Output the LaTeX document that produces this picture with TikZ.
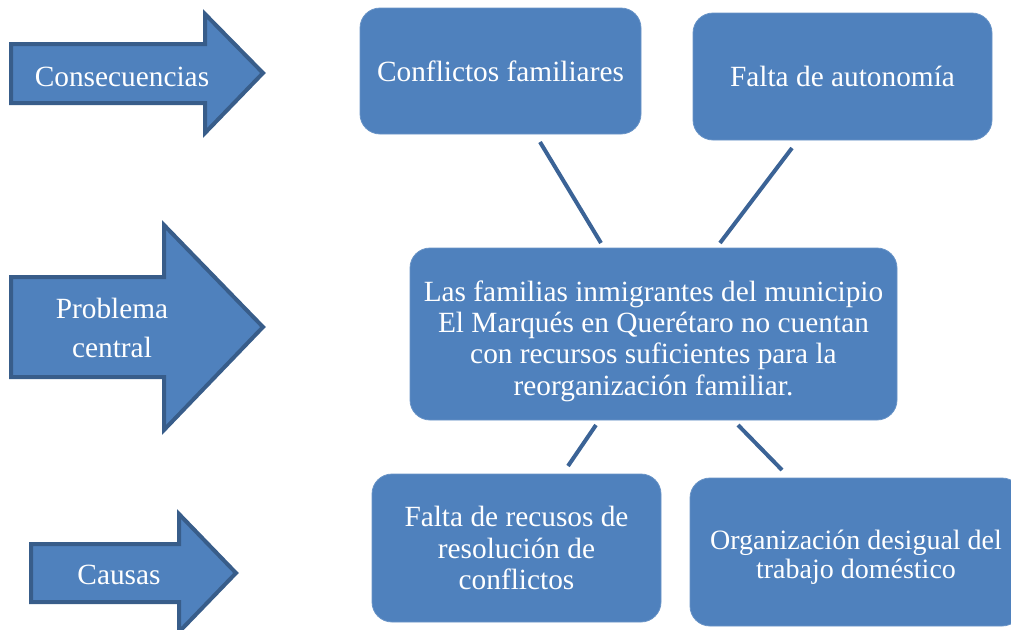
\documentclass[tikz,border=0pt]{standalone}
\usepackage{fontspec}
\setmainfont{Liberation Serif}
\definecolor{boxfill}{HTML}{4F81BD}
\definecolor{boxedge}{HTML}{385D8A}
\definecolor{linkcol}{HTML}{3B6396}
\begin{document}
\begin{tikzpicture}[x=0.75pt,y=-0.75pt,
  arrowshape/.style={fill=boxfill,draw=boxedge,line width=3pt,line join=miter},
  lbl/.style={text=white,font=\fontsize{22pt}{23.5pt}\selectfont,align=center,inner sep=0pt},
  box/.style={fill=boxfill,draw=boxfill!85!white,line width=0.6pt,rounded corners=15pt,text=white,
    font=\fontsize{22pt}{23.5pt}\selectfont,align=center,inner sep=0pt,outer sep=0pt},
  link/.style={draw=linkcol,line width=3pt}]
\useasboundingbox (0,0) rectangle (1011,629);
\begin{scope}
\clip (0,0) rectangle (1011,629);
% side arrows
\draw[arrowshape] (11,44) -- (205,44) -- (205,14) -- (263,73) -- (205,133) -- (205,103) -- (11,103) -- cycle;
\draw[arrowshape] (11,277) -- (164,277) -- (164,225) -- (263,327) -- (164,430) -- (164,377) -- (11,377) -- cycle;
\draw[arrowshape] (31,544) -- (179,544) -- (179,514) -- (236,573) -- (179,632) -- (179,602) -- (31,602) -- cycle;
\node[lbl] (tcons) at (122,77) {Consecuencias};
\node[lbl,font=\fontsize{22pt}{29pt}\selectfont] (tprob) at (112,328) {Problema\\central};
\node[lbl] (tcaus) at (119,575) {Causas};
% boxes
\node[box,minimum width=210.75pt,minimum height=94.5pt] (conf) at (500.5,71) {Conflictos familiares};
\node[box,minimum width=224.25pt,minimum height=95.25pt] (auto) at (842.5,76.5) {Falta de autonomía};
\node[box,minimum width=365.25pt,minimum height=129pt] (cent) at (653.5,334) {\rule{0pt}{26pt}Las familias inmigrantes del municipio\\El Marqués en Querétaro no cuentan\\con recursos suficientes para la\\reorganización familiar.};
\node[box,minimum width=216.75pt,minimum height=111pt] (recu) at (516.5,548) {Falta de recusos de\\resolución de\\conflictos};
\node[box,minimum width=249pt,minimum height=111pt,font=\fontsize{21pt}{21.75pt}\selectfont] (orga) at (856,552) {\rule{0pt}{23pt}Organización desigual del\\trabajo doméstico};
% connector ends
\coordinate (c1a) at (540,142); \coordinate (c1b) at (601,243);
\coordinate (c2a) at (792,148); \coordinate (c2b) at (720,243);
\coordinate (c3a) at (596,425); \coordinate (c3b) at (568,466);
\coordinate (c4a) at (738,425); \coordinate (c4b) at (782,470);
\draw[link] (c1a) -- (c1b);
\draw[link] (c2a) -- (c2b);
\draw[link] (c3a) -- (c3b);
\draw[link] (c4a) -- (c4b);
\end{scope}
\end{tikzpicture}
\end{document}
